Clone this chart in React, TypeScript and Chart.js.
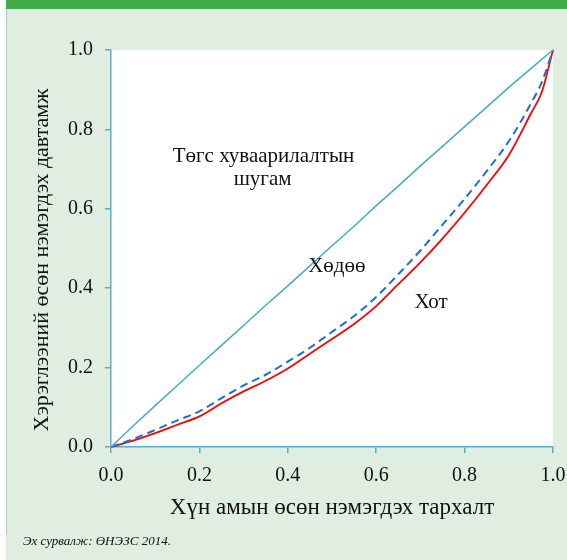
import React, { useEffect, useRef } from "react";
import { Chart, registerables } from "chart.js";

Chart.register(...registerables);

// Cumulative population share (x)
const xShares = [0, 0.05, 0.1, 0.15, 0.2, 0.25, 0.3, 0.35, 0.4, 0.45, 0.5, 0.55, 0.6, 0.65, 0.7, 0.75, 0.8, 0.85, 0.9, 0.95, 0.975, 1.0];
// Line of perfect equality
const equality = [0, 0.053, 0.104, 0.155, 0.206, 0.256, 0.306, 0.357, 0.406, 0.456, 0.507, 0.556, 0.608, 0.657, 0.708, 0.757, 0.807, 0.856, 0.906, 0.953, 0.977, 1.0];
// Rural (Хөдөө) - dashed
const rural = [0, 0.02, 0.043, 0.067, 0.09, 0.123, 0.155, 0.182, 0.215, 0.25, 0.29, 0.33, 0.378, 0.435, 0.495, 0.56, 0.625, 0.695, 0.77, 0.865, 0.92, 1.0];
// Urban (Хот) - solid red
const urban = [0, 0.016, 0.035, 0.056, 0.077, 0.11, 0.14, 0.167, 0.198, 0.235, 0.272, 0.31, 0.355, 0.41, 0.465, 0.525, 0.59, 0.66, 0.735, 0.84, 0.895, 1.0];

const tickLabels = ["0.0", "0.2", "0.4", "0.6", "0.8", "1.0"];
const xTitle = "Хүн амын өсөн нэмэгдэх тархалт";
const yTitle = "Хэрэглээний өсөн нэмэгдэх давтамж";
const sourceNote = "Эх сурвалж: ӨНЭЗС 2014.";

const annotationTexts = ["Төгс хуваарилалтын", "шугам", "Хөдөө", "Хот"];
const annotationX = [0.345, 0.343, 0.511, 0.724];
const annotationY = [0.718, 0.66, 0.441, 0.35];

const AXIS = "#5aafc8";
const SERIF = "'Liberation Serif', 'Times New Roman', serif";

const decorPlugin = {
  id: "decor",
  beforeDraw(chart: any) {
    const { ctx, chartArea: a } = chart;
    ctx.save();
    ctx.fillStyle = "#ffffff";
    ctx.fillRect(a.left, a.top, a.right - a.left, a.bottom - a.top);
    ctx.restore();
  },
  afterDraw(chart: any) {
    const { ctx, chartArea: a, scales } = chart;
    ctx.save();
    ctx.fillStyle = "#111";
    ctx.textAlign = "center";
    ctx.textBaseline = "alphabetic";
    // x title
    ctx.font = `23px ${SERIF}`;
    ctx.fillText(xTitle, (a.left + a.right) / 2, 514);
    // y title
    ctx.font = `22px ${SERIF}`;
    ctx.save();
    ctx.translate(48, 260);
    ctx.rotate(-Math.PI / 2);
    ctx.fillText(yTitle, 0, 0);
    ctx.restore();
    // annotations
    ctx.font = `21px ${SERIF}`;
    annotationTexts.forEach((t, i) => {
      const px = scales.x.getPixelForValue(annotationX[i]);
      const py = scales.y.getPixelForValue(annotationY[i]);
      ctx.fillText(t, px, py);
    });
    ctx.restore();
  },
};

export default function App() {
  const ref = useRef<HTMLCanvasElement>(null);
  useEffect(() => {
    if (!ref.current) return;
    const mk = (ys: number[]) => xShares.map((x, i) => ({ x, y: ys[i] }));
    const tickOpts = {
      color: "#111",
      font: { family: SERIF, size: 20 },
      callback: (v: any) => {
        const idx = Math.round(Number(v) / 0.2);
        return tickLabels[idx] ?? "";
      },
    };
    const chart = new Chart(ref.current, {
      type: "line",
      data: {
        datasets: [
          { data: mk(equality), borderColor: "#4bacc6", borderWidth: 1.6, pointRadius: 0, fill: false, tension: 0 },
          { data: mk(rural), borderColor: "#1a6fd4", borderWidth: 2, borderDash: [8, 5], pointRadius: 0, fill: false, cubicInterpolationMode: "monotone" },
          { data: mk(urban), borderColor: "#ff0000", borderWidth: 1.8, pointRadius: 0, fill: false, cubicInterpolationMode: "monotone" },
        ],
      },
      options: {
        responsive: false,
        animation: false,
        layout: { padding: { left: 20, top: 50, right: 14, bottom: 33 } },
        plugins: { legend: { display: false }, tooltip: { enabled: false }, title: { display: false } },
        clip: false as any,
        scales: {
          x: {
            type: "linear",
            min: 0,
            max: 1,
            ticks: { ...tickOpts, stepSize: 0.2, padding: 11, maxRotation: 0 },
            grid: { drawOnChartArea: false, drawTicks: true, tickLength: 6, color: AXIS, lineWidth: 1.5 },
            border: { display: true, color: AXIS, width: 1.5 },
            afterFit: (s: any) => { s.height = 80; s.paddingLeft = 0; s.paddingRight = 0; },
          },
          y: {
            type: "linear",
            min: 0,
            max: 1,
            ticks: { ...tickOpts, stepSize: 0.2, padding: 12 },
            grid: { drawOnChartArea: false, drawTicks: true, tickLength: 6, color: AXIS, lineWidth: 1.5 },
            border: { display: true, color: AXIS, width: 1.5 },
            afterFit: (s: any) => { s.width = 91; s.paddingTop = 0; s.paddingBottom = 0; },
          },
        },
      },
      plugins: [decorPlugin],
    });
    return () => chart.destroy();
  }, []);

  return (
    <div style={{ position: "absolute", left: 0, top: 0, width: 567, height: 560, background: "#ffffff", overflow: "hidden" }}>
      <div style={{ position: "absolute", left: 6, top: 0, width: 561, height: 560, background: "#dfeee0" }} />
      <div style={{ position: "absolute", left: 6, top: 0, width: 1, height: 535, background: "#a8c6cc" }} />
      <div style={{ position: "absolute", left: 6, top: 0, width: 561, height: 9, background: "#3fae4a" }} />
      <canvas ref={ref} width={567} height={560} style={{ position: "absolute", left: 0, top: 0 }} />
      <div
        style={{
          position: "absolute",
          left: 23,
          top: 533,
          fontFamily: SERIF,
          fontStyle: "italic",
          fontSize: 13,
          color: "#111",
          whiteSpace: "nowrap",
        }}
      >
        {sourceNote}
      </div>
    </div>
  );
}
